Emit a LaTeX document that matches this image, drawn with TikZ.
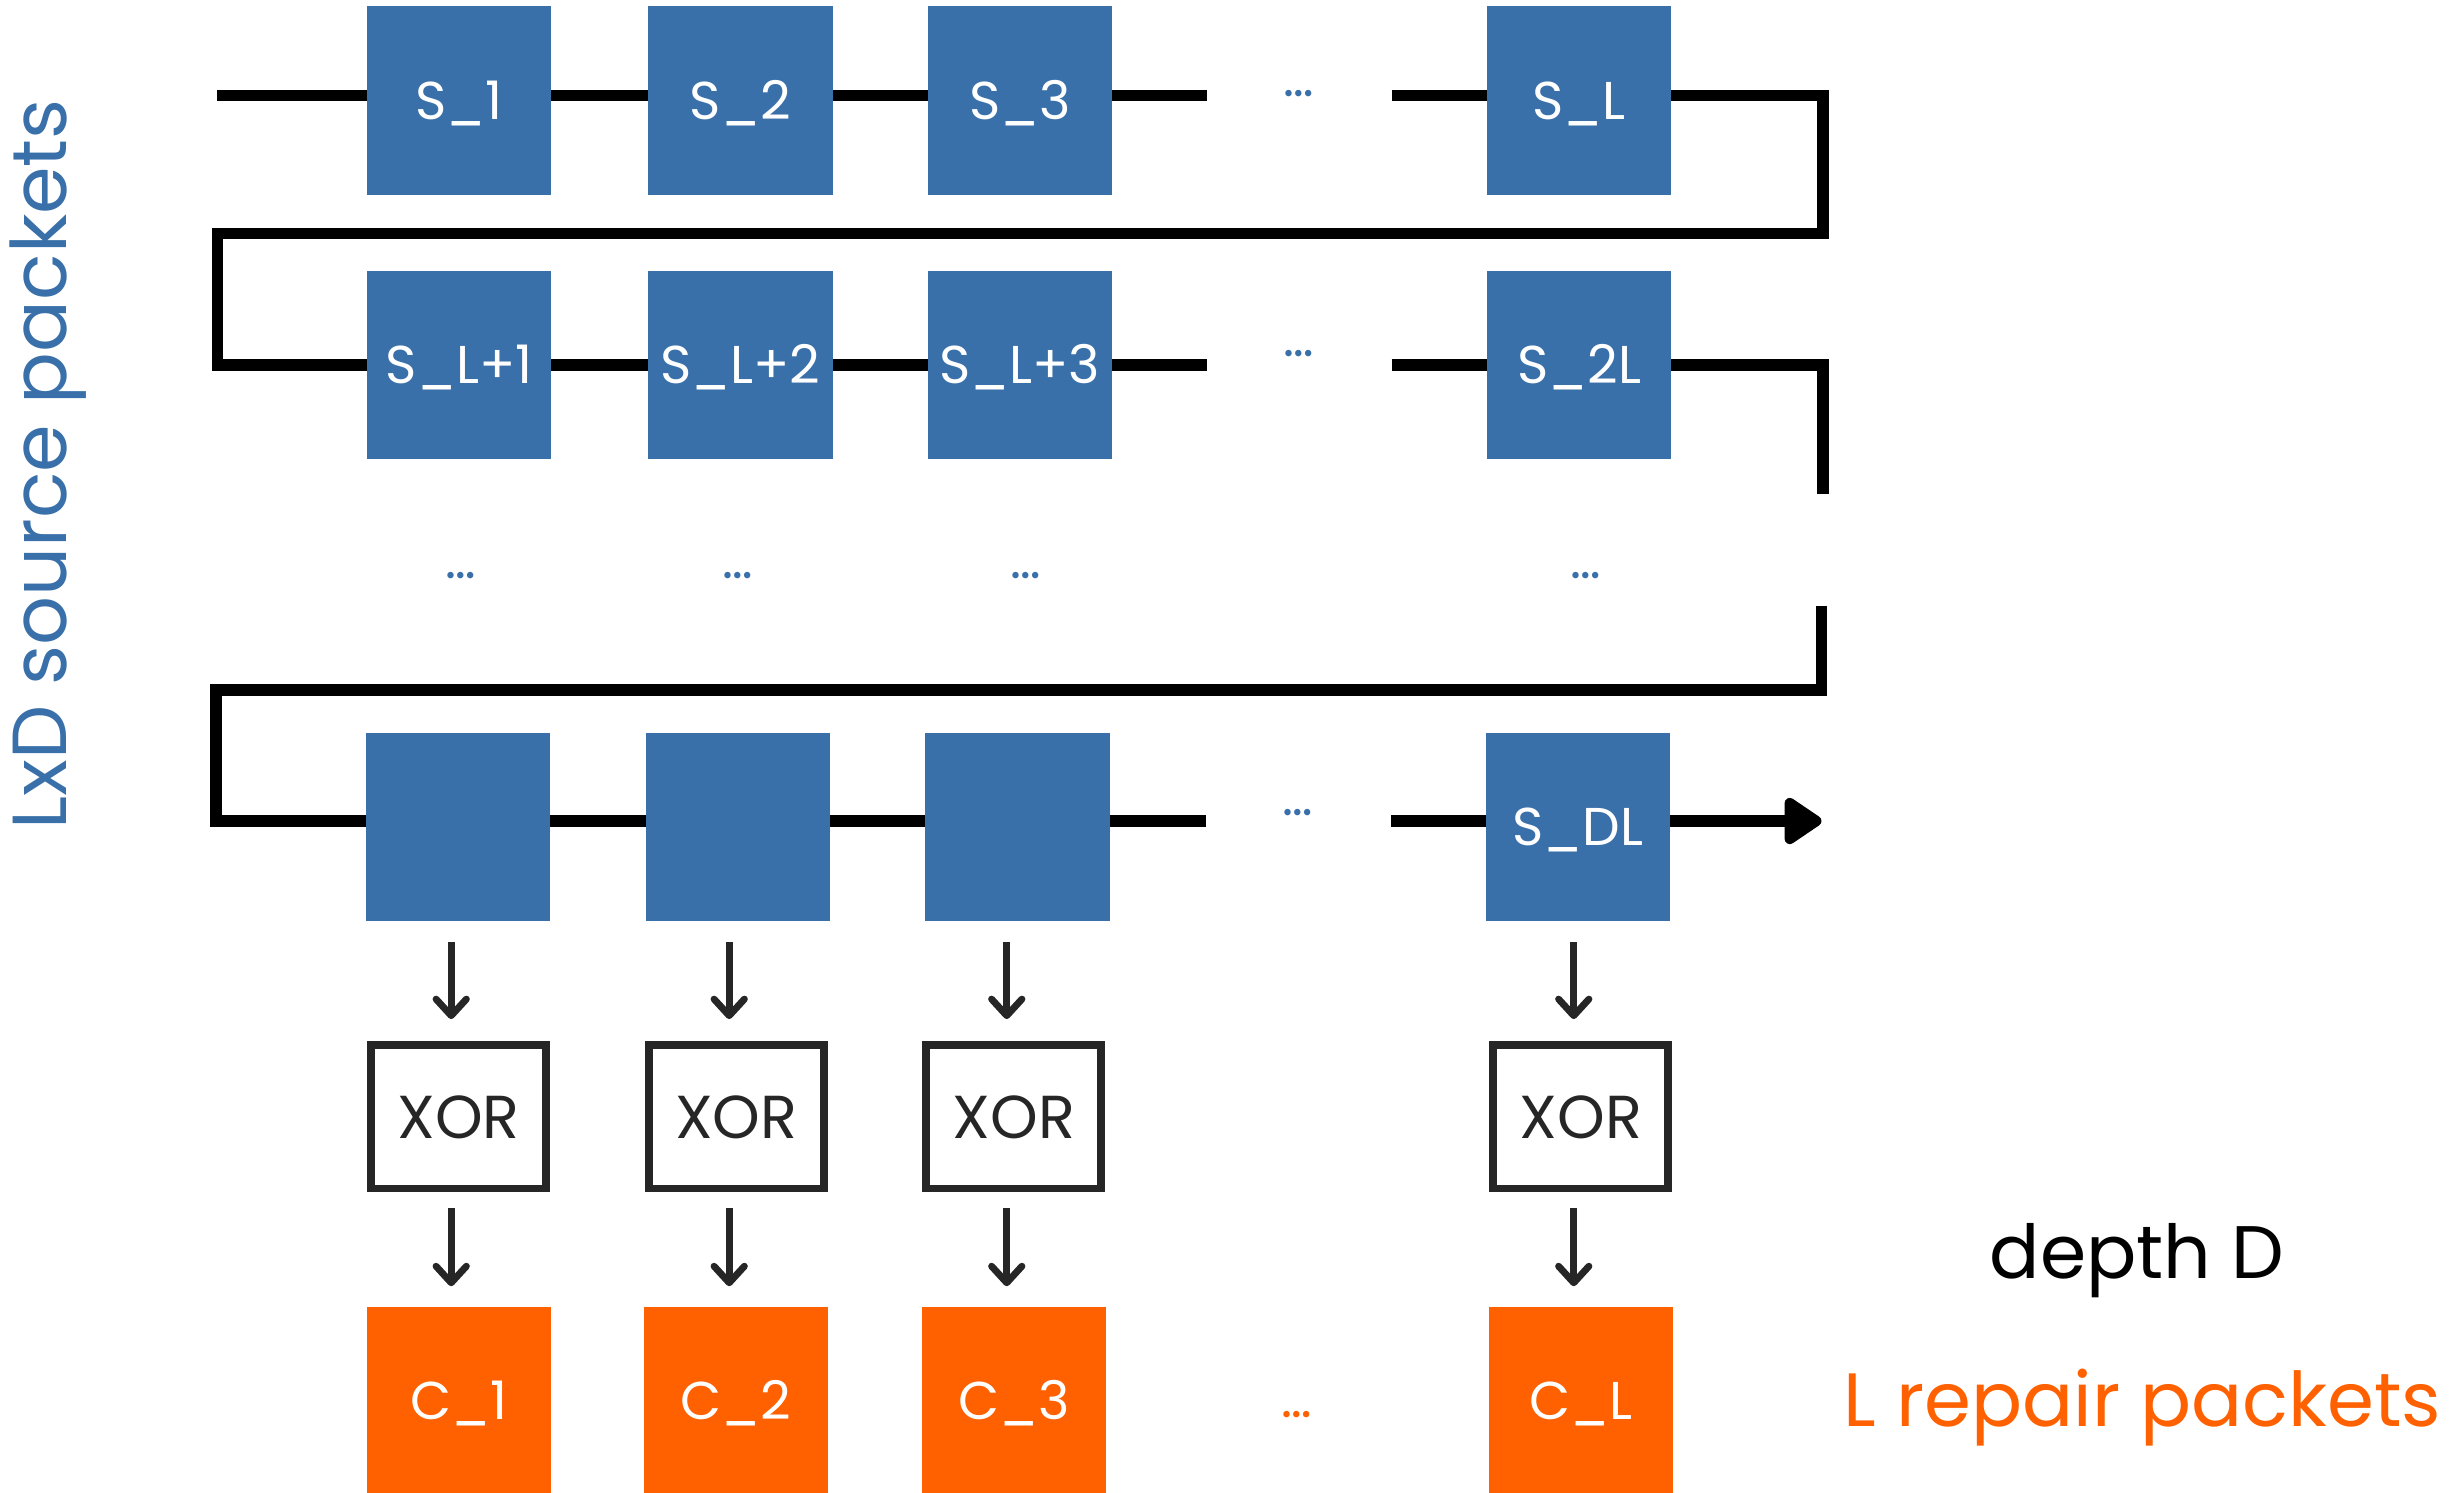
\documentclass[tikz,border=0pt]{standalone}
\usepackage{fontspec}
\setmainfont{Poppins}
\usetikzlibrary{arrows.meta}
\definecolor{pblue}{HTML}{3A70AA}
\definecolor{porange}{HTML}{FF6000}
\definecolor{dgray}{HTML}{262626}
\begin{document}
\begin{tikzpicture}[x=0.02cm,y=-0.02cm,
  pkt/.style={fill=pblue,text=white,minimum width=2.35cm,minimum height=2.4cm,inner sep=0pt,outer sep=0pt,text height=13.5pt,text depth=0pt,font=\fontsize{19.3}{23}\selectfont},
  rep/.style={pkt,fill=porange},
  xorbox/.style={draw=dgray,line width=2.85pt,fill=white,minimum width=2.23cm,minimum height=1.83cm,inner sep=0pt,text=dgray,text height=15.5pt,text depth=0pt,font=\fontsize{22}{26}\selectfont},
  link/.style={line width=4.1pt},
  flow/.style={draw=dgray,line width=2.5pt,-{Straight Barb[length=6pt,width=11pt,round]}},
  gap/.style={text=pblue,anchor=base,font=\fontsize{19}{21}\selectfont,inner sep=0pt},
]
\useasboundingbox (0,0) rectangle (1568,951);

% row y-levels of the chain
\coordinate (r1) at (0,61);
\coordinate (r2) at (0,232.6);
\coordinate (rD) at (0,523.3);
% arrow columns
\coordinate (k1) at (287.6,0);
\coordinate (k2) at (464.8,0);
\coordinate (k3) at (641.7,0);
\coordinate (k4) at (1003.1,0);

% source packets
\node[pkt] (s1) at (292.7,64) {S\_1};
\node[pkt] (s2) at (471.9,64) {S\_2};
\node[pkt] (s3) at (650,64) {S\_3};
\node[pkt] (sL) at (1006.5,64) {S\_L};
\node[pkt] (t1) at (292.7,232.4) {S\_L+1};
\node[pkt] (t2) at (471.9,232.4) {S\_L+2};
\node[pkt] (t3) at (650,232.4) {S\_L+3};
\node[pkt] (t2L) at (1006.5,232.4) {S\_2L};
\node[pkt] (d1) at (291.9,527.3) {};
\node[pkt] (d2) at (470.5,527.3) {};
\node[pkt] (d3) at (648.5,527.3) {};
\node[pkt] (dDL) at (1005.8,527.3) {S\_DL};

% xor
\node[xorbox] (x1) at (292.3,711.8) {XOR};
\node[xorbox] (x2) at (469.2,711.8) {XOR};
\node[xorbox] (x3) at (646.2,711.8) {XOR};
\node[xorbox] (x4) at (1007.6,711.8) {XOR};

% repair packets
\node[rep] (c1) at (292.5,893) {C\_1};
\node[rep] (c2) at (469.2,893) {C\_2};
\node[rep] (c3) at (646.2,893) {C\_3};
\node[rep] (c4) at (1007.6,893) {C\_L};

% ellipses
\node[gap] (e1) at (828,61.8) {…};
\node[gap] (e2) at (828,227.3) {…};
\node[gap] (e3) at (293.5,368.6) {…};
\node[gap] (e4) at (470.5,368.6) {…};
\node[gap] (e5) at (654,368.6) {…};
\node[gap] (e6) at (1010.5,368.6) {…};
\node[gap] (e7) at (827,519.6) {…};
\node[gap,text=porange] (e8) at (826.5,903.3) {…};

% chain row 1
\coordinate (in) at (138.5,61);
\coordinate (g1a) at (769.5,61);
\coordinate (g1b) at (887,61);
\draw[link] (in) -- (s1.west|-r1);
\draw[link] (s1.east|-r1) -- (s2.west|-r1);
\draw[link] (s2.east|-r1) -- (s3.west|-r1);
\draw[link] (s3.east|-r1) -- (g1a);
\draw[link] (g1b) -- (sL.west|-r1);
\draw[link] (sL.east|-r1) -- (1162,61) -- (1162,148.8) -- (138.8,148.8) -- (138.8,232.6) -- (t1.west|-r2);

% chain row 2
\coordinate (g2a) at (769.5,232.6);
\coordinate (g2b) at (887,232.6);
\coordinate (q2) at (1162,314.7);
\draw[link] (t1.east|-r2) -- (t2.west|-r2);
\draw[link] (t2.east|-r2) -- (t3.west|-r2);
\draw[link] (t3.east|-r2) -- (g2a);
\draw[link] (g2b) -- (t2L.west|-r2);
\draw[link] (t2L.east|-r2) -- (1162,232.6) -- (q2);

% chain last row
\coordinate (q3) at (1161,386);
\coordinate (g3a) at (769,523.3);
\coordinate (g3b) at (886.5,523.3);
\coordinate (out) at (1161,523.3);
\draw[link] (q3) -- (1161,439.7) -- (137.7,439.7) -- (137.7,523.3) -- (d1.west|-rD);
\draw[link] (d1.east|-rD) -- (d2.west|-rD);
\draw[link] (d2.east|-rD) -- (d3.west|-rD);
\draw[link] (d3.east|-rD) -- (g3a);
\draw[link] (g3b) -- (dDL.west|-rD);
\draw[link,-{Triangle[length=15pt,width=19pt,round]}] (dDL.east|-rD) -- (out);

% down arrows
\draw[flow,shorten <=0.268cm,shorten >=0.28cm] (d1.south-|k1) -- (x1.north-|k1);
\draw[flow,shorten <=0.268cm,shorten >=0.28cm] (d2.south-|k2) -- (x2.north-|k2);
\draw[flow,shorten <=0.268cm,shorten >=0.28cm] (d3.south-|k3) -- (x3.north-|k3);
\draw[flow,shorten <=0.268cm,shorten >=0.28cm] (dDL.south-|k4) -- (x4.north-|k4);
\draw[flow,shorten <=0.204cm,shorten >=0.264cm] (x1.south-|k1) -- (c1.north-|k1);
\draw[flow,shorten <=0.204cm,shorten >=0.264cm] (x2.south-|k2) -- (c2.north-|k2);
\draw[flow,shorten <=0.204cm,shorten >=0.264cm] (x3.south-|k3) -- (c3.north-|k3);
\draw[flow,shorten <=0.204cm,shorten >=0.264cm] (x4.south-|k4) -- (c4.north-|k4);

% labels
\node[anchor=base,inner sep=0pt,font=\fontsize{27}{32}\selectfont] (depth) at (1362,815) {depth D};
\node[anchor=base,inner sep=0pt,text=porange,font=\fontsize{27.4}{32}\selectfont] (lrep) at (1365.5,909) {L repair packets};
\node[anchor=base,inner sep=0pt,text=pblue,rotate=90,font=\fontsize{27.8}{32}\selectfont] (src) at (42.6,296) {LxD source packets};
\end{tikzpicture}
\end{document}
